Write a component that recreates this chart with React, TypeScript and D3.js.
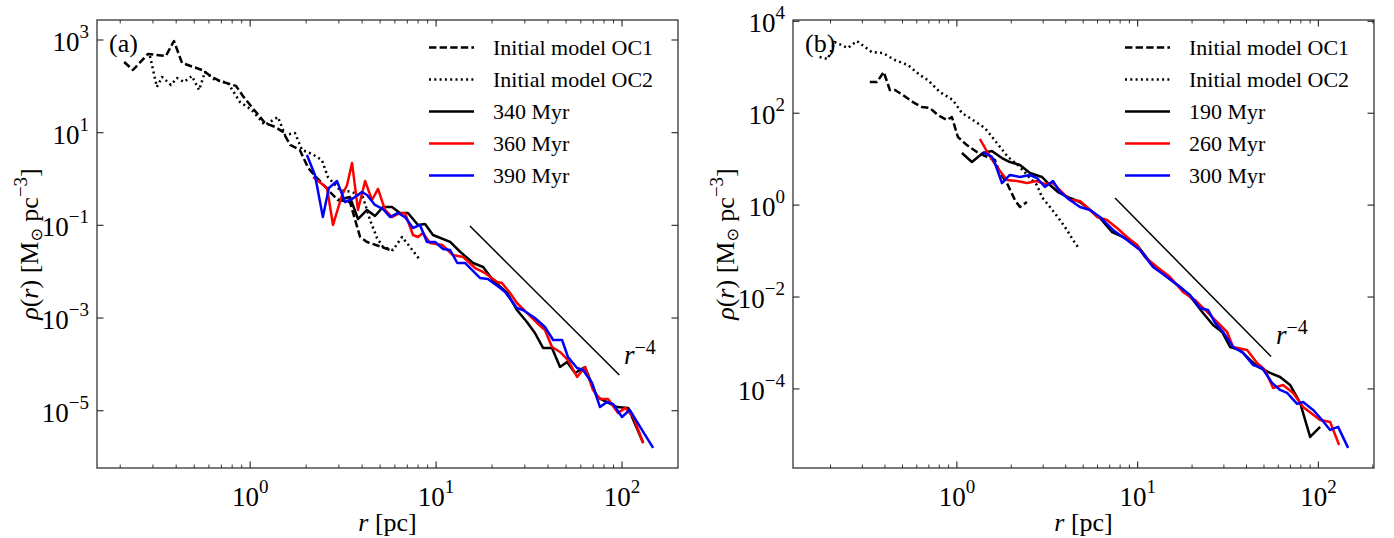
import React from 'react';
import * as d3 from 'd3';

type Pt = [number, number];

// ---------- Panel (a) data: [r (pc), rho (Msun pc^-3)] ----------
const aInitOC1: Pt[] = [[0.21,335],[0.234,225],[0.282,499],[0.352,452],[0.389,950],[0.43,319],[0.551,225],[0.623,159],[0.688,130],[0.839,102],[0.914,62],[1.02,35.8],[1.2,16.2],[1.36,13.3],[1.5,10.4],[1.64,5.43],[1.85,4.23],[2.05,1.73],[2.29,1.05],[2.69,0.525],[2.96,0.352],[3.44,0.319],[3.9,0.0561],[4.25,0.0438],[5.11,0.0341],[5.65,0.0294]];
const aInitOC2: Pt[] = [[0.289,452],[0.315,96.8],[0.336,159],[0.375,107],[0.404,151],[0.441,124],[0.486,167],[0.531,83.3],[0.571,204],[0.647,137],[0.76,118],[0.881,45.9],[1.02,30.8],[1.2,14.6],[1.41,21.8],[1.54,8.91],[1.74,9.84],[1.9,4.23],[2.15,3.47],[2.43,2.57],[2.62,1.1],[3.04,0.579],[3.53,0.525],[4.04,0.409],[4.41,0.131],[4.81,0.0533],[5.18,0.0341],[5.86,0.0294],[6.56,0.0561],[7.24,0.0341],[8.19,0.0179]];
const a340: Pt[] = [[2.97,0.352],[3.44,0.409],[3.8,0.137],[4.25,0.215],[4.69,0.159],[5.18,0.249],[5.79,0.249],[6.39,0.185],[7.06,0.185],[7.99,0.102],[8.72,0.107],[9.62,0.0619],[11.9,0.0438],[13.5,0.0266],[15.8,0.0154],[17.9,0.0126],[20.2,0.00662],[24.1,0.00347],[27.2,0.00149],[30.8,8.22e-4],[34.0,4.75e-4],[37.6,2.26e-4],[42.0,2.26e-4],[46.4,8.79e-5],[50.6,1.12e-4],[55.9,6.52e-5],[63.2,8.79e-5],[73.4,1.98e-5],[79.0,1.7e-5],[94.0,1.2e-5],[108,1.15e-5],[115,6.31e-6],[130,2.01e-6]];
const a360: Pt[] = [[2.18,1.11],[2.59,0.64],[2.79,0.102],[3.12,0.452],[3.32,0.743],[3.53,2.22],[3.8,0.215],[4.15,0.906],[4.52,0.352],[4.87,0.61],[5.31,0.215],[5.79,0.151],[6.24,0.176],[6.8,0.185],[7.51,0.0619],[7.99,0.0561],[8.5,0.0684],[9.27,0.0416],[10.8,0.0377],[12.3,0.0229],[14.0,0.0207],[16.2,0.012],[18.3,0.00938],[21.3,0.006],[22.6,0.0057],[25.0,0.00347],[27.2,0.00211],[30.8,0.00129],[34.9,7.82e-4],[38.5,5.52e-4],[42.0,2.37e-4],[46.4,1.85e-4],[51.2,1.24e-4],[57.3,5.35e-5],[63.2,8.79e-5],[69.8,2.8e-5],[76.1,1.79e-5],[84.1,1.79e-5],[95.2,8.93e-6],[104,1.15e-5],[115,7.31e-6],[130,2.01e-6]];
const a390: Pt[] = [[2.02,3.3],[2.23,1.22],[2.46,0.151],[2.65,0.64],[2.93,0.906],[3.24,0.319],[3.53,0.371],[3.99,0.525],[4.25,0.452],[4.69,0.275],[5.18,0.225],[5.65,0.151],[6.24,0.185],[6.8,0.151],[7.51,0.0877],[8.19,0.102],[8.93,0.0438],[9.87,0.0438],[10.9,0.0309],[11.9,0.0294],[13.0,0.0154],[14.3,0.0154],[17.2,0.00731],[19.0,0.00697],[22.1,0.00445],[23.5,0.00365],[27.2,0.00165],[29.3,0.00149],[34.0,0.001],[38.5,6.41e-4],[42.6,3.36e-4],[47.6,3.36e-4],[51.2,1.44e-4],[57.3,8.36e-5],[61.7,7.57e-5],[69.0,3.96e-5],[76.1,1.2e-5],[83.0,1.54e-5],[89.4,1.4e-5],[100,7.31e-6],[110,1.04e-5],[128,3.84e-6],[147,1.57e-6]];

// ---------- Panel (b) data ----------
const bInitOC1: Pt[] = [[0.33,478],[0.361,478],[0.394,788],[0.426,320],[0.454,320],[0.503,249],[0.571,175],[0.64,137],[0.709,130],[0.785,91.5],[0.88,71.2],[0.938,82.7],[1.013,30.4],[1.136,20.3],[1.29,14.3],[1.466,11.2],[1.623,9.6],[1.73,5.0],[1.891,3.03],[2.095,1.29],[2.233,0.911],[2.44,1.17]];
const bInitOC2: Pt[] = [[0.174,1672],[0.193,1512],[0.211,3545],[0.249,2625],[0.28,3727],[0.338,2148],[0.39,2043],[0.454,1439],[0.536,1120],[0.624,679],[0.691,528],[0.805,290],[0.95,194],[1.066,101],[1.18,78.7],[1.429,47.7],[1.665,22.5],[1.916,11.2],[2.176,7.47],[2.536,3.9],[2.773,2.74],[2.954,1.5],[3.272,0.911],[3.717,0.475],[4.064,0.288],[4.387,0.174],[4.675,0.123]];
const b190: Pt[] = [[1.066,13.6],[1.211,8.68],[1.393,13.6],[1.562,15.1],[1.775,10.6],[1.965,8.68],[2.233,7.47],[2.536,5.0],[2.954,4.1],[3.272,2.74],[3.624,1.93],[4.222,1.43],[4.796,1.17],[5.449,0.784],[6.188,0.525],[7.211,0.26],[8.297,0.203],[9.917,0.136],[11.71,0.0579],[14.54,0.0273],[17.16,0.0166],[20.25,0.00863],[23.0,0.0045],[26.13,0.00247],[29.31,0.00174],[32.46,8.19e-4],[36.87,7.05e-4],[41.88,4.27e-4],[46.37,3.01e-4],[54.03,2.23e-4],[61.38,1.82e-4],[69.72,1.22e-4],[79.2,4.95e-5],[89.98,9.02e-6],[102.2,1.49e-5]];
const b260: Pt[] = [[1.341,27.5],[1.484,13.6],[1.665,6.76],[1.891,3.52],[2.148,3.35],[2.44,3.03],[2.773,3.35],[3.069,2.88],[3.4,3.03],[3.813,1.93],[4.222,1.29],[4.796,1.23],[5.312,0.867],[5.957,0.552],[6.766,0.475],[7.686,0.318],[8.73,0.203],[9.917,0.136],[10.98,0.0744],[12.8,0.0451],[15.11,0.0273],[17.82,0.0129],[20.77,0.00863],[24.2,0.00473],[27.85,0.00273],[31.24,0.00174],[33.72,8.19e-4],[40.31,7.05e-4],[45.79,3.67e-4],[50.7,2.59e-4],[56.14,1.05e-4],[63.77,1.22e-4],[72.44,8.18e-5],[82.28,4.06e-5],[102.2,2.11e-5],[116.1,1.91e-5],[130.2,6.04e-6]];
const b300: Pt[] = [[1.393,14.3],[1.562,11.2],[1.623,8.26],[1.775,3.03],[1.965,4.53],[2.233,4.1],[2.536,4.53],[2.773,3.9],[3.069,2.48],[3.4,3.35],[3.717,1.93],[4.222,1.29],[4.796,0.911],[5.449,0.784],[6.188,0.552],[7.303,0.288],[8.73,0.174],[10.3,0.106],[12.16,0.0451],[14.54,0.0273],[17.16,0.0166],[19.49,0.0111],[22.14,0.00578],[24.51,0.00523],[26.81,0.00273],[29.69,0.00174],[33.72,8.19e-4],[38.3,6.07e-4],[43.51,3.32e-4],[48.79,2.86e-4],[55.43,1.35e-4],[61.38,9.5e-5],[67.1,8.18e-5],[76.23,4.71e-5],[82.28,5.21e-5],[93.48,3.49e-5],[104.8,2.11e-5],[116.1,1.28e-5],[128.5,1.49e-5],[146.0,5.2e-6]];

// r^-4 reference segments
const refA: Pt[] = [[15.2, 0.0968], [96.7, 5.9e-5]];
const refB: Pt[] = [[7.5, 1.43], [54.7, 5.1e-4]];

const legendA = ['Initial model OC1', 'Initial model OC2', '340 Myr', '360 Myr', '390 Myr'];
const legendB = ['Initial model OC1', 'Initial model OC2', '190 Myr', '260 Myr', '300 Myr'];
const xTickExps = [0, 1, 2];
const yTickExpsA = [3, 1, -1, -3, -5];
const yTickExpsB = [4, 2, 0, -2, -4];

const seriesStyles = [
  { color: '#000000', dash: '7.4 3.2' },
  { color: '#000000', dash: '2 3.3' },
  { color: '#000000', dash: null },
  { color: '#ff0000', dash: null },
  { color: '#0000ff', dash: null },
];

const FONT = '"Liberation Serif", "Times New Roman", "DejaVu Serif", serif';
const AXC = '#333333';
const LW = 2.5;

function sup(e: number) {
  return e < 0 ? '\u2212' + Math.abs(e) : String(e);
}

type PanelProps = {
  left: number; right: number; top: number; bottom: number;
  xDomain: [number, number]; yDomain: [number, number];
  data: Pt[][]; names: string[]; yTicks: number[]; tag: string;
  ref: Pt[]; refLabel: Pt; legendX: number; ylabelX: number;
};

function Panel(p: PanelProps) {
  const x = d3.scaleLog().domain(p.xDomain).range([p.left, p.right]);
  const y = d3.scaleLog().domain(p.yDomain).range([p.bottom, p.top]);
  const line = d3.line<Pt>().x(d => x(d[0])).y(d => y(d[1]));
  const minors: number[] = [];
  for (let e = -1; e <= 2; e++) for (let k = 2; k <= 9; k++) {
    const v = k * Math.pow(10, e);
    if (v > p.xDomain[0] && v < p.xDomain[1]) minors.push(v);
  }
  const majL = 6.5, minL = 3.5;
  const cx = (p.left + p.right) / 2, cy = (p.top + p.bottom) / 2;
  return (
    <g fontFamily={FONT}>
      {p.data.map((s, i) => (
        <path key={i} d={line(s) || ''} fill="none" stroke={seriesStyles[i].color}
          strokeWidth={LW} strokeDasharray={seriesStyles[i].dash || undefined}
          strokeLinejoin="round" />
      ))}
      <path d={line(p.ref) || ''} stroke="#000" strokeWidth={1.5} fill="none" />
      <text x={x(p.refLabel[0])} y={y(p.refLabel[1])} fontSize={27} fill="#000">
        <tspan fontStyle="italic">r</tspan>
        <tspan fontSize={20} dy={-10}>{'\u22124'}</tspan>
      </text>
      <text x={p.left + 12} y={p.top + 32} fontSize={26}>{p.tag}</text>
      {p.names.map((n, i) => {
        const ly = 47.5 + 32 * i;
        return (
          <g key={n}>
            <line x1={p.legendX} x2={p.legendX + 45} y1={ly} y2={ly} stroke={seriesStyles[i].color}
              strokeWidth={LW} strokeDasharray={seriesStyles[i].dash || undefined} />
            <text x={p.legendX + 64} y={ly + 7.5} fontSize={22}>{n}</text>
          </g>
        );
      })}
      <rect x={p.left} y={p.top} width={p.right - p.left} height={p.bottom - p.top}
        fill="none" stroke={AXC} strokeWidth={1.3} />
      {minors.map(v => (
        <g key={'m' + v} stroke={AXC} strokeWidth={1}>
          <line x1={x(v)} x2={x(v)} y1={p.bottom} y2={p.bottom - minL} />
          <line x1={x(v)} x2={x(v)} y1={p.top} y2={p.top + minL} />
        </g>
      ))}
      {xTickExps.map(e => {
        const v = Math.pow(10, e);
        return (
          <g key={'x' + e}>
            <line x1={x(v)} x2={x(v)} y1={p.bottom} y2={p.bottom - majL} stroke={AXC} strokeWidth={1.2} />
            <line x1={x(v)} x2={x(v)} y1={p.top} y2={p.top + majL} stroke={AXC} strokeWidth={1.2} />
            <text x={x(v)} y={p.bottom + 38} fontSize={27} textAnchor="middle">
              10<tspan fontSize={19} dy={-13}>{sup(e)}</tspan>
            </text>
          </g>
        );
      })}
      {p.yTicks.map(e => {
        const v = Math.pow(10, e);
        return (
          <g key={'y' + e}>
            <line x1={p.left} x2={p.left + majL} y1={y(v)} y2={y(v)} stroke={AXC} strokeWidth={1.2} />
            <line x1={p.right} x2={p.right - majL} y1={y(v)} y2={y(v)} stroke={AXC} strokeWidth={1.2} />
            <text x={p.left - 8} y={y(v) + 11} fontSize={27} textAnchor="end">
              10<tspan fontSize={19} dy={-13}>{sup(e)}</tspan>
            </text>
          </g>
        );
      })}
      <text x={cx} y={p.bottom + 63} fontSize={26} textAnchor="middle">
        <tspan fontStyle="italic">r</tspan> [pc]
      </text>
      <text transform={`translate(${p.ylabelX},${cy}) rotate(-90)`} fontSize={26} textAnchor="middle">
        <tspan fontStyle="italic">{'\u03c1'}</tspan>(<tspan fontStyle="italic">r</tspan>) [M
        <tspan fontSize={16} dy={4} fontFamily='"DejaVu Sans", sans-serif'>{'\u2299'}</tspan>
        <tspan dy={-4}> pc</tspan>
        <tspan fontSize={19} dy={-11}>{'\u22123'}</tspan>
        <tspan dy={11}>]</tspan>
      </text>
    </g>
  );
}

export default function App() {
  return (
    <svg width={1394} height={538} style={{ position: 'absolute', left: 0, top: 0, background: '#fff' }}>
      <rect width={1394} height={538} fill="#fff" />
      <Panel left={97} right={678} top={20} bottom={468}
        xDomain={[0.15, 200]} yDomain={[5.8e-7, 2700]}
        data={[aInitOC1, aInitOC2, a340, a360, a390]} names={legendA}
        yTicks={yTickExpsA} tag="(a)" ref={refA} refLabel={[102.5, 1.02e-4]}
        legendX={429} ylabelX={38} />
      <Panel left={793} right={1374} top={20} bottom={468}
        xDomain={[0.124, 203]} yDomain={[1.9e-6, 1.07e4]}
        data={[bInitOC1, bInitOC2, b190, b260, b300]} names={legendB}
        yTicks={yTickExpsB} tag="(b)" ref={refB} refLabel={[58.3, 9.5e-4]}
        legendX={1125} ylabelX={734} />
    </svg>
  );
}
